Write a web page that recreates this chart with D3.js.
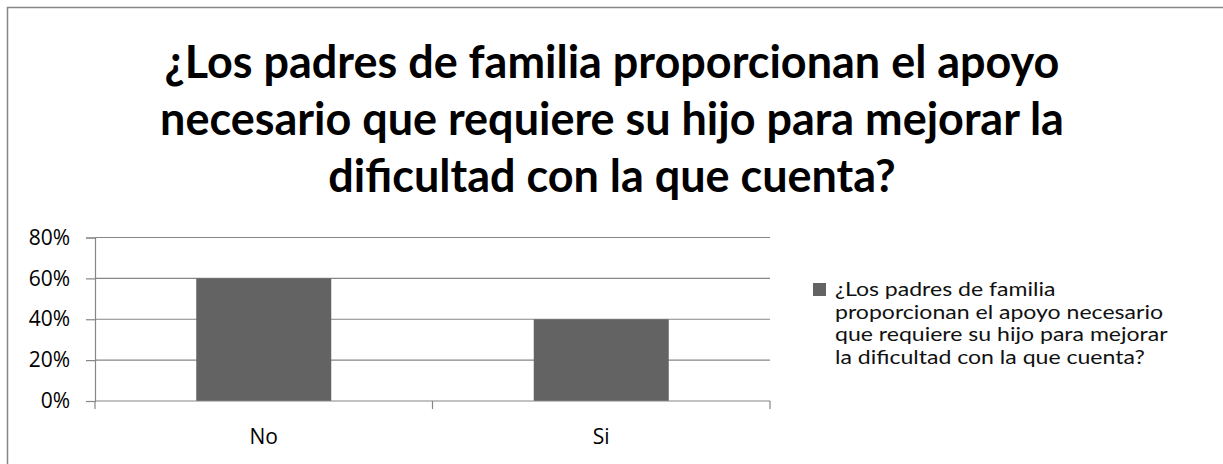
<!DOCTYPE html>
<html><head><meta charset="utf-8">
<script src="https://cdn.jsdelivr.net/npm/d3@7"></script>
<style>html,body{margin:0;padding:0;background:#fff;}svg{display:block;}</style>
</head><body>
<svg id="c" width="1223" height="464"></svg>
<script>
const categories = ["No", "Si"];
const values = [0.6, 0.4];
const yTicks = [0, 0.2, 0.4, 0.6, 0.8];
const titleLines = ["¿Los padres de familia proporcionan el apoyo", "necesario que requiere su hijo para mejorar la", "dificultad con la que cuenta?"];
const legendLines = ["¿Los padres de familia", "proporcionan el apoyo necesario", "que requiere su hijo para mejorar", "la dificultad con la que cuenta?"];

const FONT = "Lato, sans-serif";
const FONT2 = "'Open Sans', sans-serif";
const svg = d3.select("#c");
svg.append("rect").attr("x", 7.5).attr("y", 7.5).attr("width", 1240).attr("height", 480)
  .attr("fill", "#fff").attr("stroke", "#868686").attr("stroke-width", 1.5);

function fit(text, font, weight, target, size) {
  const t = svg.append("text").attr("font-family", font).attr("font-weight", weight).attr("font-size", size || 100).text(text);
  const w = t.node().getComputedTextLength(); t.remove();
  return (size || 100) * target / w;
}

const titleSize = fit(titleLines[0], FONT, "bold", 895);
const title = svg.append("g");
titleLines.forEach((l, i) => {
  title.append("text").attr("x", 612).attr("y", 78 + i * 57).attr("text-anchor", "middle")
    .attr("font-family", FONT).attr("font-weight", "bold").attr("font-size", titleSize).attr("fill", "#000").text(l);
});

const x = d3.scaleBand().domain(categories).range([95, 770]).paddingInner(0.6).paddingOuter(0.3);
const xb = d3.scaleBand().domain(categories).range([95, 770]);
const y = d3.scaleLinear().domain([0, 0.8]).range([401, 237.5]);

svg.append("g").selectAll("line").data(yTicks.slice(1)).join("line")
  .attr("x1", 95).attr("x2", 770).attr("y1", d => y(d)).attr("y2", d => y(d))
  .attr("stroke", "#868686").attr("stroke-width", 1.2);

svg.append("g").selectAll("rect").data(values).join("rect")
  .attr("x", (d, i) => x(categories[i])).attr("width", x.bandwidth())
  .attr("y", d => y(d)).attr("height", d => y(0) - y(d)).attr("fill", "#636363");

const TS = Math.min(21, fit("80%", FONT2, "normal", 45));
const yAxis = d3.axisLeft(y).tickValues(yTicks).tickFormat(d3.format(".0%")).tickSize(9).tickPadding(16);
const ya = svg.append("g").attr("transform", "translate(95,0)").call(yAxis);
ya.select(".domain").attr("stroke", "#868686").attr("stroke-width", 1.2);
ya.selectAll(".tick line").attr("stroke", "#868686").attr("stroke-width", 1.2);
ya.selectAll("text").attr("font-family", FONT2).attr("font-size", TS).attr("fill", "#000");

const xa = svg.append("g").attr("transform", `translate(0,${y(0)})`)
  .call(d3.axisBottom(xb).tickSize(0).tickPadding(28));
xa.select(".domain").remove();
xa.selectAll("text").attr("font-family", FONT2).attr("font-size", TS).attr("fill", "#000");
const bounds = [95, 95 + xb.bandwidth(), 770];
svg.append("g").selectAll("line").data(bounds).join("line")
  .attr("x1", d => d).attr("x2", d => d).attr("y1", y(0)).attr("y2", y(0) + 8)
  .attr("stroke", "#868686").attr("stroke-width", 1.2);
svg.append("line").attr("x1", 95).attr("x2", 770).attr("y1", y(0)).attr("y2", y(0))
  .attr("stroke", "#868686").attr("stroke-width", 1.2);

const lg = svg.append("g");
lg.append("rect").attr("x", 813).attr("y", 283).attr("width", 13).attr("height", 13).attr("fill", "#636363");
const LS = 18.5;
const legF = fit(legendLines[1], FONT, "normal", 328, LS) / LS;
legendLines.forEach((l, i) => {
  const t = lg.append("text").attr("x", 835).attr("y", 296 + i * 22.5).attr("font-family", FONT)
    .attr("font-size", LS).attr("fill", "#111").text(l);
  t.attr("textLength", t.node().getComputedTextLength() * legF).attr("lengthAdjust", "spacingAndGlyphs");
});
</script>
</body></html>
